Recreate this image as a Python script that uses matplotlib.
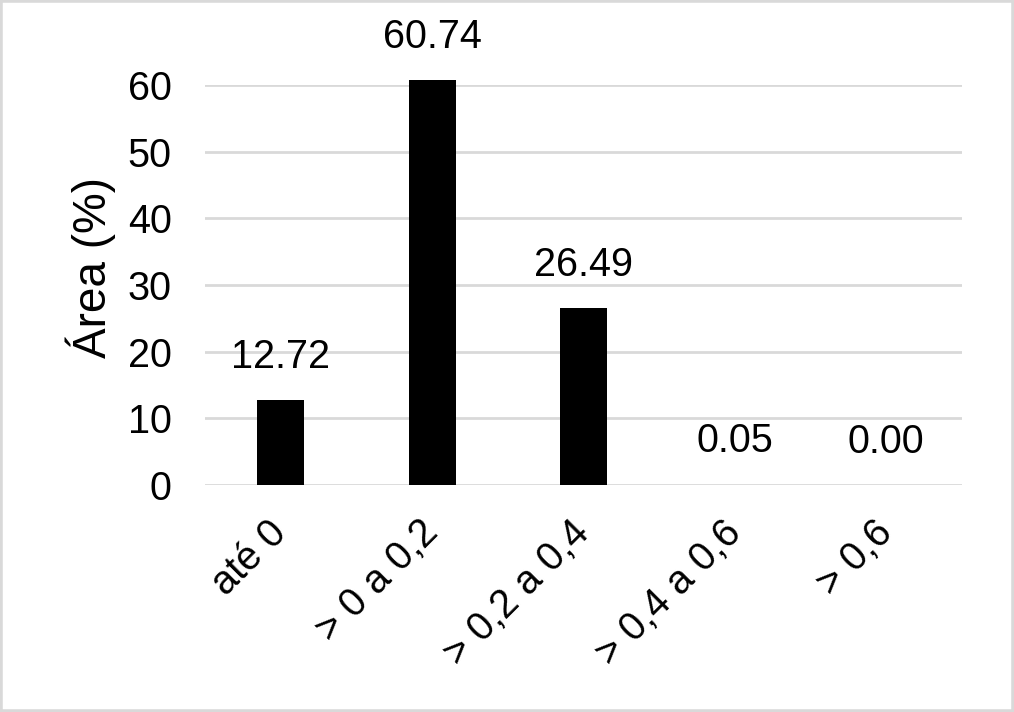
import matplotlib
matplotlib.use("Agg")
import matplotlib.pyplot as plt
from matplotlib.patches import Rectangle

categories = ["até 0", "> 0 a 0,2", "> 0,2 a 0,4", "> 0,4 a 0,6", "> 0,6"]
values = [12.72, 60.74, 26.49, 0.05, 0.00]
yticks = [0, 10, 20, 30, 40, 50, 60]

plt.rcParams['font.family'] = ['Liberation Sans', 'DejaVu Sans']

fig = plt.figure(figsize=(10.14, 7.12), dpi=100)
ax = fig.add_axes([205/1014, 1-485/712, (962-205)/1014, (485-85)/712])

x = list(range(len(categories)))
bars = ax.bar(x, values, width=0.31, color='black', zorder=3, clip_on=False)

ax.set_xlim(-0.5, len(categories)-0.5)
ax.set_ylim(0, 60)
ax.set_yticks(yticks)
ax.set_yticklabels([str(t) for t in yticks], fontsize=28.5)
ax.yaxis.grid(True, color='#d9d9d9', linewidth=2, zorder=0)
ax.set_axisbelow(True)
for s in ax.spines.values():
    s.set_visible(False)
ax.tick_params(axis='both', length=0)
ax.tick_params(axis='y', pad=24)

ax.set_xticks(x)
ax.set_xticklabels(categories, fontsize=28.5, rotation=45, ha='right',
                   rotation_mode='anchor', va='center')
ax.tick_params(axis='x', pad=30)

ax.set_ylabel("Área (%)", fontsize=33)
ax.yaxis.set_label_coords(-0.117, 0.5425)

for xi, v in zip(x, values):
    ax.annotate(f"{v:.2f}", (xi, v), xytext=(0, 17.5), textcoords='offset points',
                ha='center', va='bottom', fontsize=28.5, annotation_clip=False)

fig.patches.append(Rectangle((0, 0), 1, 1, transform=fig.transFigure,
                             fill=False, edgecolor='#d9d9d9', linewidth=4))

fig.savefig("out.png", dpi=100)
